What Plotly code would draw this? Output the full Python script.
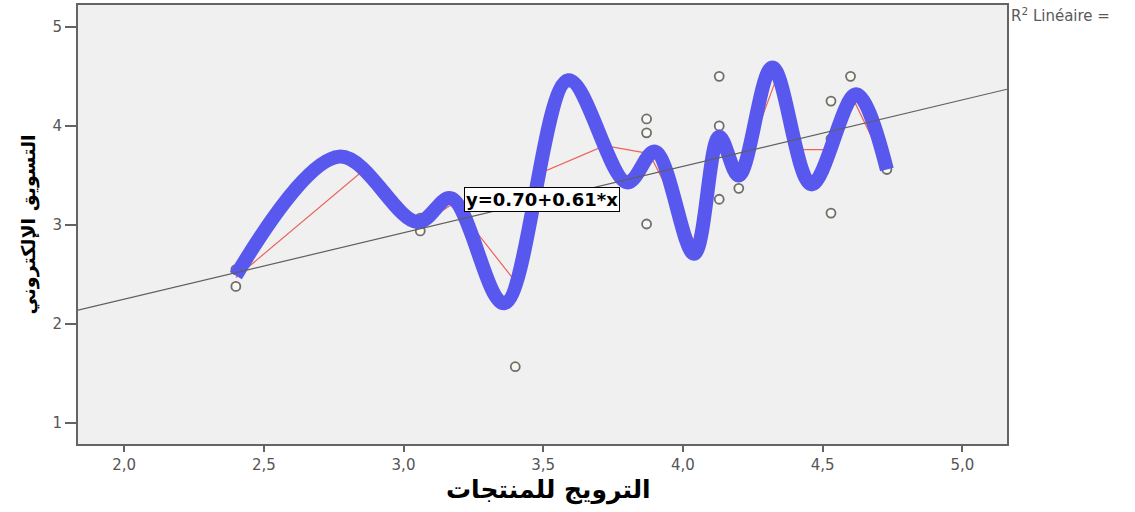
import plotly.graph_objects as go

# ---- data ----
# observed points (open circles)
obs_x = [2.40, 2.40, 3.06, 3.06, 3.40, 3.87, 3.87, 3.87, 4.13, 4.13, 4.13, 4.20, 4.53, 4.53, 4.53, 4.60, 4.73]
obs_y = [2.55, 2.38, 3.07, 2.94, 1.57, 4.07, 3.93, 3.01, 4.50, 4.00, 3.26, 3.37, 4.25, 3.87, 3.12, 4.50, 3.56]

# red line joining group means
mean_x = [2.40, 2.86, 3.06, 3.18, 3.40, 3.47, 3.72, 3.88, 4.05, 4.13, 4.20, 4.34, 4.39, 4.53, 4.615, 4.73]
mean_y = [2.47, 3.56, 3.00, 3.22, 2.43, 3.50, 3.80, 3.72, 2.78, 3.85, 3.45, 4.52, 3.76, 3.76, 4.24, 3.57]

# blue interpolation curve (key points)
curve_x = [2.40, 2.77, 3.05, 3.17, 3.36, 3.59, 3.80, 3.90, 4.04, 4.13, 4.20, 4.32, 4.46, 4.62, 4.73]
curve_y = [2.49, 3.69, 3.03, 3.27, 2.21, 4.46, 3.43, 3.74, 2.71, 3.89, 3.50, 4.59, 3.41, 4.32, 3.56]

# linear fit line (end points as drawn)
fit_x = [1.835, 5.16]
fit_y = [2.14, 4.37]

x_ticks = [2.0, 2.5, 3.0, 3.5, 4.0, 4.5, 5.0]
y_ticks = [1, 2, 3, 4, 5]

fit_label = "y=0.70+0.61*x"
x_title = "الترويج للمنتجات"
y_title = "التسويق الإلكتروني"
legend_text = "R<sup>2</sup> Linéaire ="

fig = go.Figure()

fig.add_trace(go.Scatter(
    x=obs_x, y=obs_y, mode="markers",
    marker=dict(symbol="circle", size=9, color="rgb(248,248,240)",
                line=dict(color="rgb(110,110,110)", width=1.8)),
    showlegend=False, hoverinfo="skip"))

fig.add_trace(go.Scatter(
    x=mean_x, y=mean_y, mode="lines",
    line=dict(color="rgb(235,100,90)", width=1.2),
    showlegend=False, hoverinfo="skip"))

fig.add_trace(go.Scatter(
    x=curve_x, y=curve_y, mode="lines",
    line=dict(color="rgb(88,88,238)", width=14, shape="spline", smoothing=1.0),
    showlegend=False, hoverinfo="skip"))

fig.add_trace(go.Scatter(
    x=fit_x, y=fit_y, mode="lines",
    line=dict(color="rgb(95,95,95)", width=1.2),
    showlegend=False, hoverinfo="skip"))

fig.add_annotation(
    x=3.495, y=3.26, xref="x", yref="y", text=fit_label, showarrow=False,
    bgcolor="white", bordercolor="black", borderwidth=1, borderpad=1,
    font=dict(family="DejaVu Sans", size=18, color="black", weight="bold"))

fig.add_annotation(
    x=(1009 - 78) / 929, y=1 - (13 - 3) / 441, xref="paper", yref="paper",
    xanchor="left", yanchor="middle", text=legend_text, showarrow=False,
    font=dict(family="DejaVu Sans", size=15, color="rgb(90,90,90)"))

fig.add_annotation(
    x=(548 - 78) / 929, y=(444 - 490) / 441, xref="paper", yref="paper",
    xanchor="center", yanchor="middle", text=x_title, showarrow=False,
    font=dict(family="DejaVu Sans", size=25, color="black", weight="bold"))

fig.add_annotation(
    x=(28 - 78) / 929, y=0.5, xref="paper", yref="paper",
    xanchor="center", yanchor="middle", text=y_title, showarrow=False,
    textangle=-90,
    font=dict(family="DejaVu Sans", size=19, color="black", weight="bold"))

axis_common = dict(
    showgrid=False, zeroline=False, showline=True, mirror=True,
    linecolor="rgb(100,100,100)", linewidth=2,
    ticks="outside", tickcolor="rgb(100,100,100)", tickwidth=1.5,
    tickfont=dict(family="DejaVu Sans", size=15, color="rgb(85,85,85)"))

fig.update_xaxes(range=[1.835, 5.16], tickvals=x_ticks, tickformat=".1f",
                 ticklen=6, **axis_common)
fig.update_yaxes(range=[0.79, 5.22], tickvals=y_ticks, ticklen=11, **axis_common)

fig.update_layout(
    width=1135, height=512,
    margin=dict(l=78, r=128, t=3, b=68, pad=0),
    plot_bgcolor="rgb(240,240,240)", paper_bgcolor="white",
    separators=", ",
    showlegend=False)

fig.write_html("out.html", config={"displayModeBar": False},
               post_script="document.body.style.margin='0';")
